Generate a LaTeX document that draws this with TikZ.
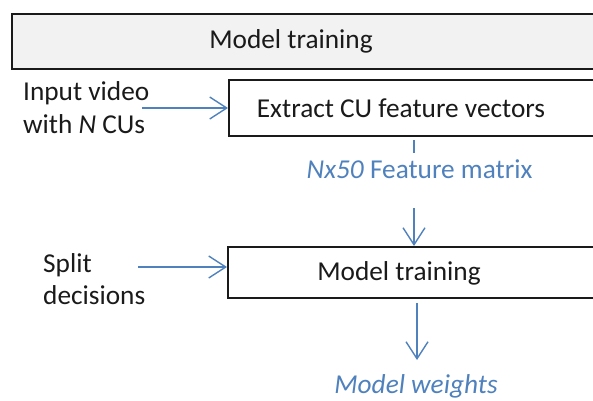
\documentclass[tikz,border=0pt]{standalone}
\usepackage{fontspec}
\setmainfont{Carlito}
\usetikzlibrary{arrows.meta}
\definecolor{flowblue}{RGB}{79,129,189}
\definecolor{boxgray}{RGB}{242,242,242}
\definecolor{inkblack}{RGB}{26,26,26}
\tikzset{
  every node/.style={font=\fontsize{27.3}{32}\selectfont, inner sep=0pt, text=inkblack},
  stagebox/.style={draw=inkblack, line width=1.8pt, rectangle},
  txt/.style={anchor=base},
  bluetxt/.style={anchor=base, text=flowblue},
  flow/.style={draw=flowblue, line width=1.4pt, -{Straight Barb[length=17pt,width=22pt,line width=1.4pt]}},
  flowline/.style={draw=flowblue, line width=1.4pt},
}
\begin{document}
\begin{tikzpicture}[x=1pt, y=-1pt]
  \useasboundingbox (0,0) rectangle (593,400);
  \clip (0,0) rectangle (593,400);

  % header band
  \node[stagebox, fill=boxgray, anchor=north west, minimum width=600pt, minimum height=55pt] (header) at (11,13) {};
  \node[txt] (headertxt) at (291,48) {Model training};

  % feature extraction stage
  \node[stagebox, fill=white, anchor=north west, minimum width=400pt, minimum height=56pt] (extract) at (228,79) {};
  \node[txt] (extracttxt) at (401,117) {Extract CU feature vectors};

  % training stage
  \node[stagebox, fill=white, anchor=north west, minimum width=400pt, minimum height=51pt] (train) at (227,246) {};
  \node[txt] (traintxt) at (399,280) {Model training};

  % inputs on the left
  \node[txt, anchor=base west] (video1) at (23,100) {Input video};
  \node[txt, anchor=base west] (video2) at (23,133) {with \textit{N} CUs};
  \node[txt, anchor=base west] (split1) at (43,272) {Split};
  \node[txt, anchor=base west] (split2) at (43,304) {decisions};

  % intermediate and final data
  \node[bluetxt] (featmat) at (419.5,178) {\textit{Nx50} Feature matrix};
  \node[bluetxt] (weights) at (416,393) {\textit{Model weights}};

  % connector end points
  \coordinate (videoout) at (142,108);
  \coordinate (splitout) at (138,267);
  \coordinate (stubtop) at (414,140);
  \coordinate (stubend) at (414,153);
  \coordinate (featout) at (414,208);
  \coordinate (trainout) at (417,303);
  \coordinate (weightsin) at (417,360);

  \draw[flow] (videoout) -- (videoout -| extract.west);
  \draw[flow] (splitout) -- (splitout -| train.west);
  \draw[flowline] (stubtop) -- (stubend);
  \draw[flow] (featout) -- (featout |- train.north);
  \draw[flow] (trainout) -- (weightsin);
\end{tikzpicture}
\end{document}
